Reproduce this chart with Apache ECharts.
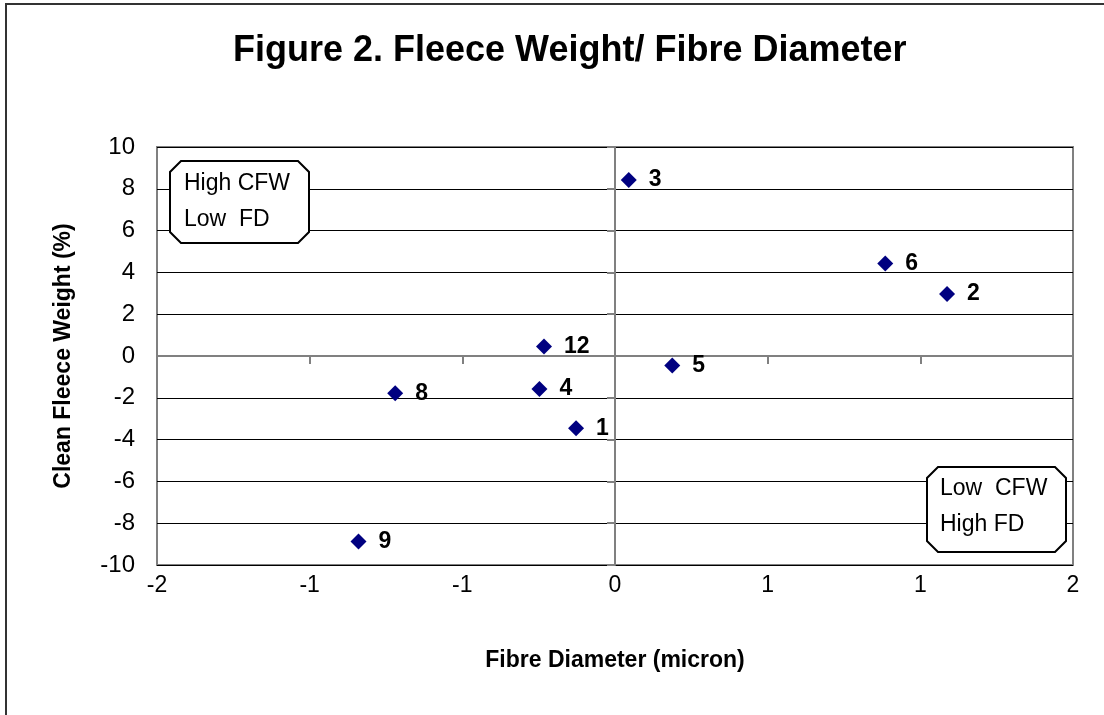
<!DOCTYPE html>
<html>
<head>
<meta charset="utf-8">
<script src="https://cdn.jsdelivr.net/npm/echarts@6/dist/echarts.min.js"></script>
<style>
html,body{margin:0;padding:0;background:#fff;}
#chart{width:1104px;height:715px;}
</style>
</head>
<body>
<div id="chart"></div>
<script>
const pointIds = ['3', '6', '2', '12', '5', '4', '8', '1', '9'];
const fibreDiameter = [0.06, 1.18, 1.45, -0.31, 0.25, -0.33, -0.96, -0.17, -1.12];
const cleanFleeceWeight = [8.42, 4.43, 2.97, 0.45, -0.46, -1.58, -1.78, -3.46, -8.88];
const xTickLabels = ['-2', '-1', '-1', '0', '1', '1', '2'];
const yTickLabels = ['-10', '-8', '-6', '-4', '-2', '0', '2', '4', '6', '8', '10'];
const titleText = 'Figure 2. Fleece Weight/ Fibre Diameter';
const xName = 'Fibre Diameter (micron)';
const yName = 'Clean Fleece Weight (%)';
const box1Lines = ['High CFW', 'Low  FD'];
const box2Lines = ['Low  CFW', 'High FD'];

const FONT = '"Liberation Sans", Arial, sans-serif';
const chart = echarts.init(document.getElementById('chart'), null, {renderer: 'canvas'});

const points = fibreDiameter.map((x, i) => ({value: [x, cleanFleeceWeight[i]], name: pointIds[i]}));

function plaque(x, y, w, h, c) {
  return {
    type: 'polygon',
    shape: {points: [[x + c, y], [x + w - c, y], [x + w, y + c], [x + w, y + h - c], [x + w - c, y + h], [x + c, y + h], [x, y + h - c], [x, y + c]]},
    style: {fill: '#fff', stroke: '#000', lineWidth: 2},
    z: 10
  };
}
function boxText(x, yCenters, lines) {
  return lines.map((t, i) => ({
    type: 'text', x: x, y: yCenters[i], z: 11,
    style: {text: t, font: '23px ' + FONT, fill: '#000', verticalAlign: 'middle', align: 'left'}
  }));
}

const option = {
  backgroundColor: '#fff',
  animation: false,
  title: {
    text: titleText, left: 228, top: 28,
    textStyle: {fontFamily: FONT, fontSize: 36, fontWeight: 'bold', color: '#000'}
  },
  grid: {left: 157, top: 147, width: 916, height: 418, show: true, borderColor: '#808080', borderWidth: 2, backgroundColor: '#fff'},
  xAxis: [
    {
      type: 'value', min: -2, max: 2, interval: 2 / 3,
      axisLine: {show: true, onZero: true, lineStyle: {color: '#808080', width: 2}},
      axisTick: {show: true, length: 8, lineStyle: {color: '#808080', width: 2}},
      axisLabel: {show: false},
      splitLine: {show: false}
    },
    {
      type: 'value', min: -2, max: 2, interval: 2 / 3, position: 'bottom',
      axisLine: {show: false, onZero: false}, axisTick: {show: false}, splitLine: {show: false},
      axisLabel: {
        margin: 9, color: '#000', fontFamily: FONT, fontSize: 23,
        formatter: (v, i) => xTickLabels[i]
      },
      name: xName, nameLocation: 'middle', nameGap: 84,
      nameTextStyle: {fontFamily: FONT, fontSize: 23, fontWeight: 'bold', color: '#000'}
    }
  ],
  yAxis: [
    {
      type: 'value', min: -10, max: 10, interval: 2,
      axisLine: {show: true, onZero: true, lineStyle: {color: '#808080', width: 2}},
      axisTick: {show: true, length: 8, lineStyle: {color: '#808080', width: 2}},
      axisLabel: {show: false},
      splitLine: {show: true, lineStyle: {color: '#000', width: 1}}
    },
    {
      type: 'value', min: -10, max: 10, interval: 2, position: 'left',
      axisLine: {show: false, onZero: false}, axisTick: {show: false}, splitLine: {show: false},
      axisLabel: {
        margin: 22, color: '#000', fontFamily: FONT, fontSize: 24,
        formatter: (v, i) => yTickLabels[i]
      },
      name: yName, nameLocation: 'middle', nameGap: 82, nameRotate: 90,
      nameTextStyle: {fontFamily: FONT, fontSize: 23, fontWeight: 'bold', color: '#000'}
    }
  ],
  series: [{
    type: 'scatter', xAxisIndex: 0, yAxisIndex: 0,
    symbol: 'diamond', symbolSize: 16,
    itemStyle: {color: '#000080', opacity: 1},
    label: {
      show: true, position: 'right', distance: 12,
      formatter: p => p.name,
      fontFamily: FONT, fontSize: 23, fontWeight: 'bold', color: '#000'
    },
    emphasis: {disabled: true},
    data: points,
    z: 5
  }],
  graphic: [
    {type: 'rect', shape: {x: 6, y: 4, width: 1120, height: 730}, style: {fill: 'none', stroke: '#333', lineWidth: 2}, z: 0},
    plaque(170, 161, 139, 82, 11),
    ...boxText(184, [184, 220], box1Lines),
    plaque(927, 467, 139, 85, 11),
    ...boxText(940, [489, 525], box2Lines)
  ]
};
chart.setOption(option);
</script>
</body>
</html>
